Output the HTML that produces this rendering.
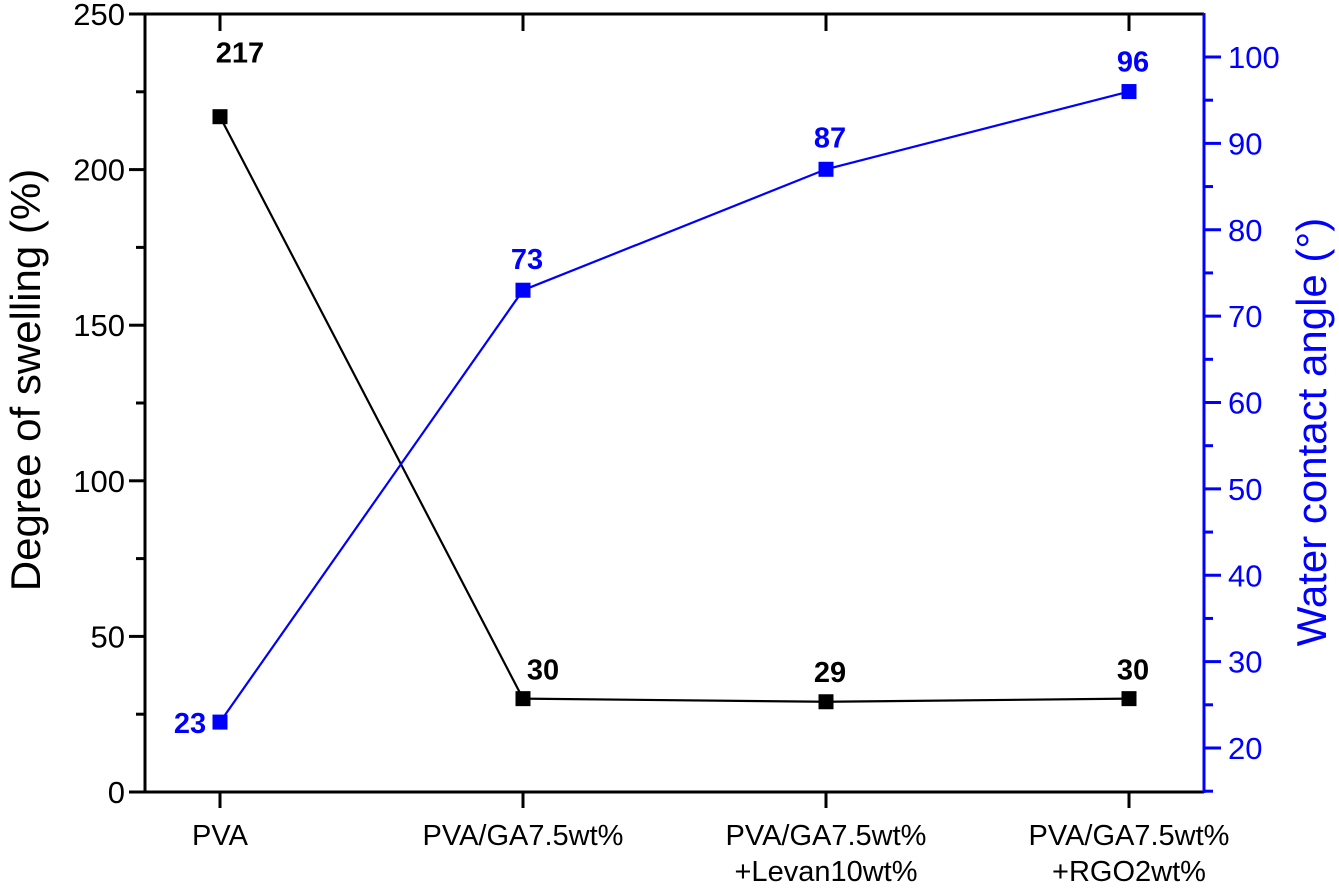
<!DOCTYPE html>
<html><head><meta charset="utf-8"><style>
html,body{margin:0;padding:0;background:#fff;}
svg text{font-family:"Liberation Sans",Arial,sans-serif;}
</style></head><body>
<svg id="chart" width="1339" height="883" viewBox="0 0 1339 883" xmlns="http://www.w3.org/2000/svg">
<g id="g"></g>
</svg>
<script>
const categories = ["PVA", "PVA/GA7.5wt%", "PVA/GA7.5wt%\n+Levan10wt%", "PVA/GA7.5wt%\n+RGO2wt%"];
const swelling = [217, 30, 29, 30];
const contactAngle = [23, 73, 87, 96];
const leftTicks = [0, 50, 100, 150, 200, 250];
const rightTicks = [20, 30, 40, 50, 60, 70, 80, 90, 100];

const NS = "http://www.w3.org/2000/svg";
const g = document.getElementById('g');
const X0 = 145, X1 = 1204, Y0 = 792, Y1 = 14;
const catX = i => 220 + i * 303;
const yL = v => Y0 - (v / 250) * (Y0 - Y1);
const yR = v => 748 - ((v - 20) / 80) * 691;
function el(tag, attrs, parent) {
  const e = document.createElementNS(NS, tag);
  for (const k in attrs) e.setAttribute(k, attrs[k]);
  (parent || g).appendChild(e);
  return e;
}
let e;
e = el('line', {x1: X0, y1: Y1, x2: X1, y2: Y1, stroke: '#000', 'stroke-width': 3});
 
e = el('line', {x1: X0, y1: Y0, x2: X1, y2: Y0, stroke: '#000', 'stroke-width': 3});
 
e = el('line', {x1: X0, y1: Y1 - 1, x2: X0, y2: Y0 + 1, stroke: '#000', 'stroke-width': 3});
 
e = el('line', {x1: X1, y1: Y1 - 1, x2: X1, y2: Y0 + 1, stroke: '#00f', 'stroke-width': 3});
 

leftTicks.forEach((v, i) => {
  const y = yL(v);
  let t = el('line', {x1: X0 - 16, y1: y, x2: X0, y2: y, stroke: '#000', 'stroke-width': 3});
   
  t = el('text', {x: X0 - 20, y: y + 11, 'text-anchor': 'end', 'font-size': 31, fill: '#000'});
  t.textContent = v;
   
  if (i < leftTicks.length - 1) {
    const ym = yL(v + 25);
    t = el('line', {x1: X0 - 9, y1: ym, x2: X0, y2: ym, stroke: '#000', 'stroke-width': 3});
     
  }
});
rightTicks.forEach(v => {
  const y = yR(v);
  let t = el('line', {x1: X1, y1: y, x2: X1 + 17, y2: y, stroke: '#00f', 'stroke-width': 3});
   
  t = el('text', {x: X1 + 24, y: y + 11, 'font-size': 31, fill: '#00f'});
  t.textContent = v;
   
});
for (let v = 15; v <= 105; v += 10) {
  const y = yR(v);
  if (y < Y1 || y > Y0) continue;
  const t = el('line', {x1: X1, y1: y, x2: X1 + 9, y2: y, stroke: '#00f', 'stroke-width': 3});
   
}
categories.forEach((c, i) => {
  const x = catX(i);
  let t = el('line', {x1: x, y1: Y0, x2: x, y2: Y0 + 16, stroke: '#000', 'stroke-width': 3});
   
  t = el('line', {x1: x, y1: Y1, x2: x, y2: Y1 + 17, stroke: '#000', 'stroke-width': 3});
   
  c.split('\n').forEach((line, j) => {
    const tx = el('text', {x: x, y: 845 + j * 36, 'text-anchor': 'middle', 'font-size': 29, fill: '#000'});
    tx.textContent = line;
     
  });
});
e = el('text', {x: 0, y: 0, 'text-anchor': 'middle', 'font-size': 42, fill: '#000', transform: 'translate(40,380) rotate(-90)'});
e.textContent = 'Degree of swelling (%)';
 
e = el('text', {x: 0, y: 0, 'text-anchor': 'middle', 'font-size': 42, fill: '#00f', transform: 'translate(1326,432) rotate(-90)'});
e.textContent = 'Water contact angle (°)';
 

function series(vals, yf, color, name, labelOffsets) {
  const pts = vals.map((v, i) => catX(i) + ',' + yf(v)).join(' ');
  let p = el('polyline', {points: pts, fill: 'none', stroke: color, 'stroke-width': 2.2});
   
  vals.forEach((v, i) => {
    const x = catX(i), y = yf(v);
    let m = el('rect', {x: x - 7.5, y: y - 7.5, width: 15, height: 15, fill: color});
     
    const o = labelOffsets[i];
    let t = el('text', {x: x + o[0], y: y + o[1], 'text-anchor': 'middle', 'font-size': 29, 'font-weight': 'bold', fill: color});
    t.textContent = v;
     
  });
}
series(swelling, yL, '#000', 'swelling', [[20, -54], [20, -19], [4, -20], [4, -19]]);
series(contactAngle, yR, '#00f', 'contact-angle', [[-30, 11], [4, -21], [4, -22], [4, -20]]);
</script>
</body></html>
